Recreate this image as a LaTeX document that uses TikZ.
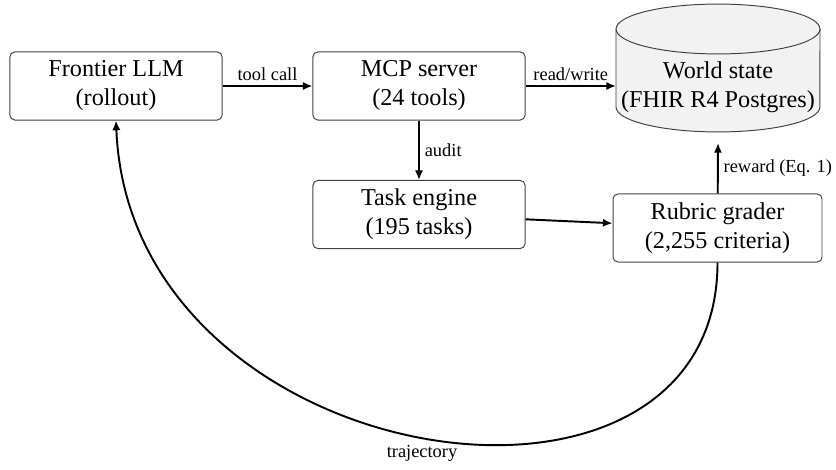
\documentclass[tikz,border=0pt]{standalone}
\usepackage{fontspec}
\setmainfont{Liberation Serif}
\usetikzlibrary{arrows.meta}
\begin{document}
\begin{tikzpicture}[x=0.413pt, y=-0.413pt,
  box/.style={draw=black!75, rounded corners=2pt, minimum width=87.6pt, minimum height=28.1pt, align=center, inner sep=1pt, font=\fontsize{10}{12}\selectfont},
  edgelabel/.style={font=\fontsize{7.6}{9}\selectfont, inner sep=2pt},
  flow/.style={-{Latex[length=4pt,width=3.4pt]}, line width=0.8pt}]
\useasboundingbox (0,0) rectangle (836,470);
% database drum
\filldraw[draw=black!75, fill=black!5] (616,29) -- (616,107) arc[start angle=180, end angle=360, x radius=42.1pt, y radius=10.3pt] -- (820,29);
\filldraw[draw=black!75, fill=black!5] (718,29) ellipse[x radius=42.1pt, y radius=10.3pt];
\node[align=center, inner sep=1pt, font=\fontsize{10}{12}\selectfont] (world) at (718,87){World state\\(FHIR R4 Postgres)};
\coordinate (worldin) at (616,86);
\coordinate (worldbot) at (718,143);
\node[box] (llm) at (116,86){Frontier LLM\\(rollout)};
\node[box] (mcp) at (419,86){MCP server\\(24 tools)};
\node[box] (task) at (419,214.5){Task engine\\(195 tasks)};
\node[box, minimum width=86.3pt] (grader) at (717.5,228){Rubric grader\\(2,255 criteria)};
\draw[flow](llm) -- node[edgelabel, above]{tool call} (mcp);
\draw[flow](mcp) -- node[edgelabel, above]{read/write} (worldin);
\draw[flow](mcp) -- node[edgelabel, right]{audit} (task);
\draw[flow](task) -- (grader);
\draw[flow](grader) -- node[edgelabel, right]{reward (Eq. 1)} (worldbot);
\draw[flow](grader.south) .. controls +(0,300) and +(14,355) .. node[edgelabel, below, pos=0.5, inner sep=1pt, yshift=-2pt]{trajectory} (llm.south);
\end{tikzpicture}
\end{document}
